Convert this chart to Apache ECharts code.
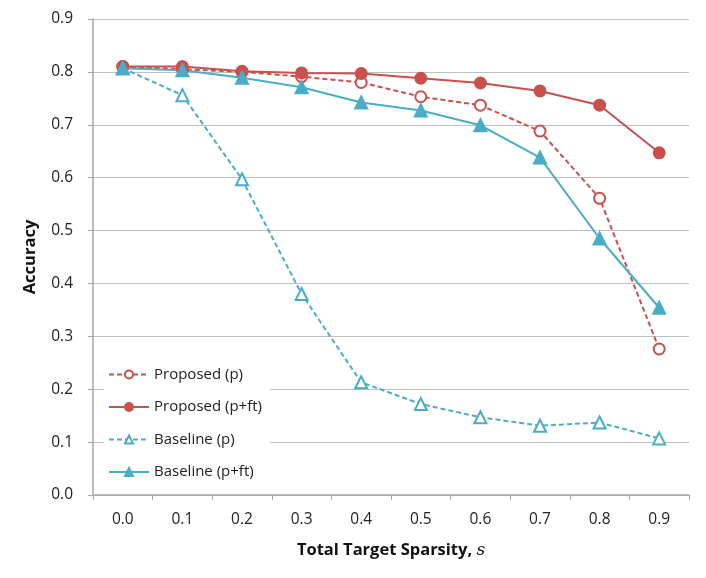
<!DOCTYPE html>
<html><head><meta charset="utf-8">
<script src="https://cdn.jsdelivr.net/npm/echarts@6/dist/echarts.min.js"></script>
<style>html,body{margin:0;padding:0;background:#fff}#c{width:706px;height:578px}</style>
</head><body><div id="c"></div>
<script>
const categories = ['0.0','0.1','0.2','0.3','0.4','0.5','0.6','0.7','0.8','0.9'];
const proposedP   = [0.810, 0.805, 0.800, 0.791, 0.780, 0.753, 0.737, 0.688, 0.561, 0.276];
const proposedPft = [0.810, 0.810, 0.801, 0.798, 0.797, 0.788, 0.779, 0.764, 0.737, 0.647];
const baselineP   = [0.807, 0.756, 0.597, 0.380, 0.213, 0.172, 0.147, 0.131, 0.137, 0.107];
const baselinePft = [0.807, 0.803, 0.789, 0.771, 0.742, 0.727, 0.699, 0.638, 0.485, 0.354];

const RED = '#c9504d', BLUE = '#4bacc6';
const FONT = 'Open Sans';
const chart = echarts.init(document.getElementById('c'));
function s(name, data, color, dashed, symbol, filled, size) {
  return {
    name, type: 'line', data,
    symbol, symbolSize: size,
    showAllSymbol: true,
    lineStyle: { color, width: 2, type: dashed ? [5, 3] : 'solid' },
    itemStyle: { color: filled ? color : '#fff', borderColor: color, borderWidth: 2 },
    emphasis: { disabled: true },
    z: 3
  };
}
chart.setOption({
  animation: false,
  textStyle: { fontFamily: FONT },
  grid: { left: 93, right: 17, top: 19, bottom: 83, containLabel: false },
  xAxis: {
    type: 'category', data: categories, boundaryGap: true,
    axisLine: { lineStyle: { color: '#a6a6a6', width: 1.5 } },
    axisTick: { show: true, length: 5, lineStyle: { color: '#a6a6a6' } },
    axisLabel: { color: '#222', fontSize: 15.5, margin: 17, fontFamily: FONT },
    name: '{b|Total Target Sparsity, }{i|s}',
    nameLocation: 'middle', nameGap: 47,
    nameTextStyle: { rich: {
      b: { fontSize: 16.5, fontWeight: 'bold', color: '#111', fontFamily: FONT },
      i: { fontSize: 17, fontStyle: 'italic', color: '#111', fontFamily: 'DejaVu Serif' }
    } }
  },
  yAxis: {
    type: 'value', min: 0, max: 0.9, interval: 0.1,
    axisLine: { show: true, lineStyle: { color: '#a6a6a6', width: 1.5 } },
    axisTick: { show: true, length: 5, lineStyle: { color: '#a6a6a6' } },
    splitLine: { lineStyle: { color: '#bfbfbf', width: 1 } },
    axisLabel: { color: '#222', fontSize: 15.5, margin: 20, fontFamily: FONT, formatter: v => v.toFixed(1) },
    name: 'Accuracy', nameLocation: 'middle', nameGap: 54, nameRotate: 90,
    nameTextStyle: { fontSize: 16.5, fontWeight: 'bold', color: '#111', fontFamily: FONT }
  },
  legend: {
    orient: 'vertical', left: 104, top: 361,
    itemWidth: 40, itemHeight: 10, itemGap: 17.5,
    backgroundColor: '#fff', padding: [6, 8, 6, 4],
    textStyle: { fontSize: 15, color: '#222', fontFamily: FONT },
    data: ['Proposed (p)', 'Proposed (p+ft)', 'Baseline (p)', 'Baseline (p+ft)']
  },
  series: [
    s('Proposed (p)', proposedP, RED, true, 'circle', false, 11),
    s('Proposed (p+ft)', proposedPft, RED, false, 'circle', true, 11),
    s('Baseline (p)', baselineP, BLUE, true, 'triangle', false, 12),
    s('Baseline (p+ft)', baselinePft, BLUE, false, 'triangle', true, 12)
  ]
});
</script></body></html>
